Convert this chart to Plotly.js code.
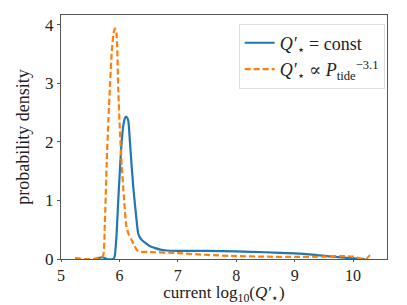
<!DOCTYPE html>
<html><head><meta charset="utf-8">
<script src="https://cdn.plot.ly/plotly-3.0.1.min.js"></script>
<style>html,body{margin:0;padding:0;background:#fff}#c{width:407px;height:305px}</style>
</head><body><div id="c"></div>
<script>
const constX = [5.62,5.66,5.70,5.74,5.78,5.90,5.92,5.95,5.98,6.01,6.04,6.07,6.10,6.12,6.15,6.18,6.21,6.24,6.27,6.30,6.32,6.35,6.38,6.45,6.52,6.6,6.7,6.81,7.0,7.5,8.0,8.5,9.0,9.3,9.6,9.9,10.1,10.2];
const constY = [0,0.02,0.03,0.02,0,0,0.05,0.4,1.0,1.55,2.03,2.3,2.42,2.43,2.37,2.0,1.58,1.2,0.89,0.6,0.44,0.37,0.33,0.27,0.22,0.19,0.16,0.145,0.14,0.14,0.13,0.115,0.095,0.075,0.045,0.02,0.005,0];
const tideX = [5.24,5.3,5.4,5.55,5.62,5.68,5.72,5.75,5.78,5.81,5.84,5.87,5.9,5.925,5.95,5.98,6.01,6.04,6.08,6.12,6.16,6.21,6.26,6.30,6.35,6.5,7.0,7.5,8.0,8.5,9.0,9.5,9.8,10.0,10.15,10.22,10.3];
const tideY = [0.02,0.01,0,0,0.02,0.03,0.05,0.6,1.58,2.35,3.0,3.55,3.86,3.94,3.85,2.9,2.15,1.6,1.01,0.55,0.42,0.32,0.22,0.15,0.125,0.12,0.1,0.07,0.05,0.04,0.035,0.04,0.05,0.04,0.0,0.0,0.08];
const xTicks = [5,6,7,8,9,10];
const yTicks = [0,1,2,3,4];
const names = ["<i>Q′</i><sub>⋆</sub> = const", "<i>Q′</i><sub>⋆</sub> ∝ <i>P</i><sub>tide</sub><sup>−3.1</sup>"];
const font = "Liberation Serif, DejaVu Serif, serif";
const data = [
  {x: constX, y: constY, mode: "lines", name: names[0], line: {color: "#1f77b4", width: 2.2, shape: "spline", smoothing: 0.6}},
  {x: tideX, y: tideY, mode: "lines", name: names[1], line: {color: "#ff7f0e", width: 2.2, dash: "6px,3px", shape: "spline", smoothing: 0.6}}
];
const layout = {
  width: 407, height: 305,
  margin: {l: 61, r: 20, t: 15, b: 46},
  paper_bgcolor: "#fff", plot_bgcolor: "#fff",
  font: {family: font, size: 16, color: "#222"},
  showlegend: true,
  legend: {x: 0.545, y: 0.965, xanchor: "left", yanchor: "top", bgcolor: "rgba(255,255,255,0.9)", bordercolor: "#ddd", borderwidth: 1, font: {family: font, size: 18}, tracegroupgap: 0},
  xaxis: {range: [5, 10.58], tickvals: xTicks, ticktext: xTicks.map(String), showgrid: false, zeroline: false, showline: true, mirror: true, linecolor: "#555", linewidth: 1, ticks: "outside", ticklen: 2, tickcolor: "#555", tickfont: {size: 16},
    title: {text: "current log<sub>10</sub>(<i>Q′</i><sub>⋆</sub>)", font: {size: 17}, standoff: 4}},
  yaxis: {range: [0, 4.17], tickvals: yTicks, ticktext: yTicks.map(String), showgrid: false, zeroline: false, showline: true, mirror: true, linecolor: "#555", linewidth: 1, ticks: "outside", ticklen: 3, tickcolor: "#555", tickfont: {size: 17},
    title: {text: "probability density", font: {size: 18}, standoff: 10}}
};
Plotly.newPlot("c", data, layout, {displayModeBar: false, staticPlot: true});
</script></body></html>
